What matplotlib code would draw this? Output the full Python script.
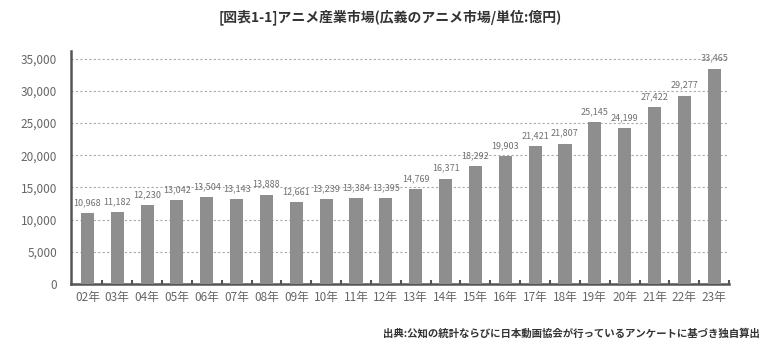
import matplotlib.pyplot as plt
import numpy as np

plt.rcParams['font.family'] = ['Noto Sans CJK JP', 'DejaVu Sans']

# データ
years = ['02年', '03年', '04年', '05年', '06年', '07年', '08年', '09年', '10年', '11年', '12年',
         '13年', '14年', '15年', '16年', '17年', '18年', '19年', '20年', '21年', '22年', '23年']
market = [10968, 11182, 12230, 13042, 13504, 13143, 13888, 12661, 13239, 13384, 13395,
          14769, 16371, 18292, 19903, 21421, 21807, 25145, 24199, 27422, 29277, 33465]
y_ticks = [0, 5000, 10000, 15000, 20000, 25000, 30000, 35000]

fig = plt.figure(figsize=(7.68, 3.47), dpi=100)
ax = fig.add_axes([0.0924, 0.182, 0.857, 0.671])

x = np.arange(len(years))
ax.bar(x, market, width=0.44, color='#8e8e8e', zorder=3)

# 数値ラベル
for xi, v in zip(x, market):
    ax.text(xi, v + 900, f'{v:,}', ha='center', va='bottom', fontsize=6.5,
            color='#707070', zorder=4)

ax.set_xlim(-0.55, len(years) - 0.5)
ax.set_ylim(0, 36200)
ax.set_yticks(y_ticks)
ax.set_yticklabels([f'{t:,}' for t in y_ticks])
ax.set_xticks(x)
ax.set_xticklabels(years)
ax.set_xticks(np.arange(len(years)) + 0.5, minor=True)

ax.tick_params(axis='y', length=0, labelsize=8.5, colors='#666666', pad=10)
ax.tick_params(axis='x', which='major', length=0, labelsize=8.5, colors='#666666', pad=5)
ax.tick_params(axis='x', which='minor', length=3, width=1.5, direction='in', color='#555555')

ax.grid(axis='y', linestyle=(0, (2, 2)), color='#aaaaaa', linewidth=0.8, zorder=0)

for s in ['top', 'right']:
    ax.spines[s].set_visible(False)
ax.spines['left'].set_color('#555555')
ax.spines['left'].set_linewidth(1.8)
ax.spines['bottom'].set_color('#555555')
ax.spines['bottom'].set_linewidth(1.8)

fig.text(0.508, 0.95, '[図表1-1]アニメ産業市場(広義のアニメ市場/単位:億円)', ha='center', va='center',
         fontsize=10, fontweight='bold', color='#333333')
fig.text(0.99, 0.04, '出典:公知の統計ならびに日本動画協会が行っているアンケートに基づき独自算出',
         ha='right', va='center', fontsize=7.5, fontweight='bold', color='#333333')

plt.savefig('out.png', dpi=100)
